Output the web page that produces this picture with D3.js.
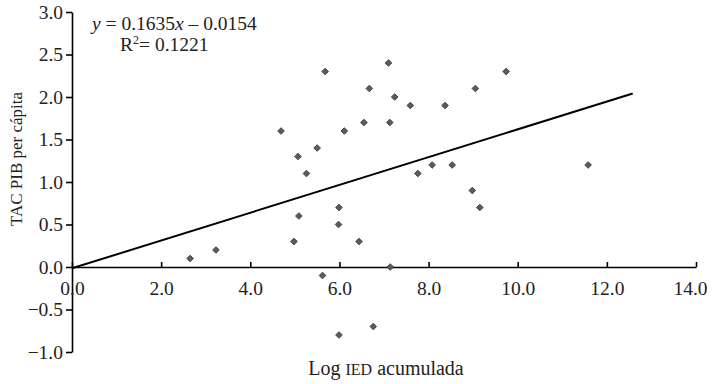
<!DOCTYPE html>
<html>
<head>
<meta charset="utf-8">
<script src="https://cdn.jsdelivr.net/npm/d3@7"></script>
<style>
  body { margin: 0; background: #fff; }
</style>
</head>
<body>
<div id="chart"></div>
<script>
// data: Log IED acumulada vs TAC PIB per capita
var log_ied = [2.65, 3.23, 4.69, 4.98, 5.07, 5.09, 5.26, 5.50, 5.62, 5.68, 5.98,
               5.99, 5.99, 6.11, 6.44, 6.55, 6.67, 6.76, 7.10, 7.13, 7.14, 7.24,
               7.59, 7.76, 8.08, 8.37, 8.53, 8.98, 9.05, 9.15, 9.74, 11.58];
var tac_pib = [0.1, 0.2, 1.6, 0.3, 1.3, 0.6, 1.1, 1.4, -0.1, 2.3, 0.5,
               0.7, -0.8, 1.6, 0.3, 1.7, 2.1, -0.7, 2.4, 1.7, 0.0, 2.0,
               1.9, 1.1, 1.2, 1.9, 1.2, 0.9, 2.1, 0.7, 2.3, 1.2];

var x_ticks = [0, 2, 4, 6, 8, 10, 12, 14];
var y_ticks = [-1.0, -0.5, 0.0, 0.5, 1.0, 1.5, 2.0, 2.5, 3.0];

// regression line as printed on the chart
var trend_slope = 0.1635;
var trend_intercept = -0.0154;
var trend_range = [0, 12.58];
var trend_label = ["0.1635", "0.0154"];
var r2_label = "0.1221";

function makeChart() {
  var canvas_width = 712;
  var canvas_height = 384;
  var serif = "'Liberation Serif', 'Times New Roman', serif";

  var svg = d3.select("#chart")
      .append("svg")
      .attr("width", canvas_width)
      .attr("height", canvas_height);

  var x = d3.scaleLinear().domain([0, 14]).range([72, 696]);
  var y = d3.scaleLinear().domain([-1, 3]).range([352, 12]);

  // y axis, ticks pointing out
  var y_axis = svg.append("g")
      .attr("transform", "translate(" + x(0) + ",0)")
      .call(d3.axisLeft(y)
        .tickValues(y_ticks)
        .tickFormat(d3.format(".1f"))
        .tickSize(6)
        .tickSizeOuter(0)
        .tickPadding(3));

  // x axis sits on y = 0, ticks pointing up into the plot
  var x_axis = svg.append("g")
      .attr("transform", "translate(0," + y(0) + ")")
      .call(d3.axisBottom(x)
        .tickValues(x_ticks)
        .tickFormat(d3.format(".1f"))
        .tickSize(-5)
        .tickSizeOuter(0)
        .tickPadding(14));

  [y_axis, x_axis].forEach(function(g) {
    g.selectAll("path, line")
      .attr("stroke", "#000")
      .attr("stroke-width", 1.6);
    g.selectAll("text")
      .attr("fill", "#222")
      .attr("font-family", serif)
      .style("font-size", "19.5px");
  });

  // last x label would run off the right edge
  x_axis.selectAll(".tick text")
    .filter(function(d) { return d == 14; })
    .attr("dx", -6);

  // trend line
  svg.append("line")
    .attr("x1", x(trend_range[0]))
    .attr("y1", y(trend_slope * trend_range[0] + trend_intercept))
    .attr("x2", x(trend_range[1]))
    .attr("y2", y(trend_slope * trend_range[1] + trend_intercept))
    .attr("stroke", "#000")
    .attr("stroke-width", 2);

  // points as small diamonds
  var points = log_ied.map(function(d, i) { return {x: d, y: tac_pib[i]}; });
  var diamond = d3.symbol().type(d3.symbolSquare).size(22);

  svg.append("g")
    .selectAll("path")
    .data(points)
    .enter()
    .append("path")
    .attr("d", diamond)
    .attr("transform", function(d) {
      return "translate(" + x(d.x) + "," + y(d.y) + ") rotate(45)";
    })
    .attr("fill", "#5c5c5c")
    .attr("stroke", "#333")
    .attr("stroke-width", 0.8);

  // equation
  var eq = svg.append("text")
    .attr("x", 92)
    .attr("y", 30)
    .attr("fill", "#222")
    .attr("font-family", serif)
    .style("font-size", "19.5px");
  eq.append("tspan").style("font-style", "italic").text("y");
  eq.append("tspan").text(" = " + trend_label[0]);
  eq.append("tspan").style("font-style", "italic").text("x");
  eq.append("tspan").text(" \u2013 " + trend_label[1]);

  var r2 = svg.append("text")
    .attr("x", 120)
    .attr("y", 51)
    .attr("fill", "#222")
    .attr("font-family", serif)
    .style("font-size", "19.5px");
  r2.append("tspan").text("R");
  r2.append("tspan").attr("dy", -7).style("font-size", "12px").text("2");
  r2.append("tspan").attr("dy", 7).text("= " + r2_label);

  // axis titles
  svg.append("text")
    .attr("transform", "translate(22,159) rotate(-90)")
    .attr("text-anchor", "middle")
    .attr("fill", "#222")
    .attr("font-family", serif)
    .style("font-size", "17px")
    .text("TAC PIB per cápita");

  var xl = svg.append("text")
    .attr("x", 386)
    .attr("y", 375)
    .attr("text-anchor", "middle")
    .attr("fill", "#222")
    .attr("font-family", serif)
    .style("font-size", "20px");
  xl.append("tspan").text("Log ");
  xl.append("tspan").style("font-size", "16px").text("IED");
  xl.append("tspan").text(" acumulada");
}

makeChart();
</script>
</body>
</html>
